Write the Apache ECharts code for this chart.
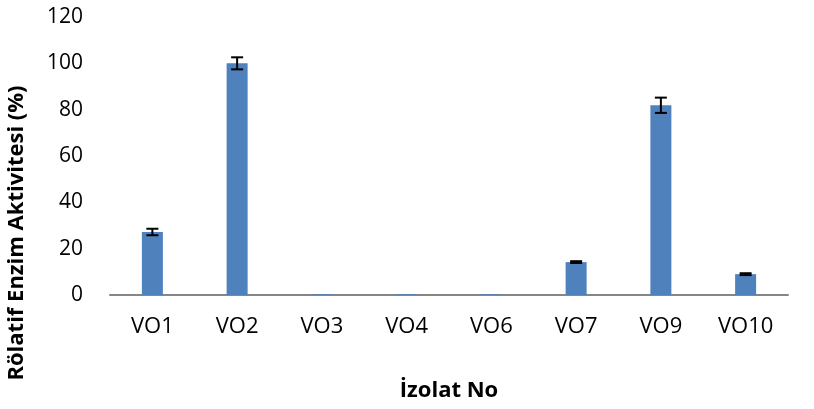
<!DOCTYPE html>
<html>
<head>
<meta charset="utf-8">
<script src="https://cdn.jsdelivr.net/npm/echarts@6/dist/echarts.min.js"></script>
<style>
html, body { margin: 0; padding: 0; background: #fff; }
#chart { width: 814px; height: 409px; }
</style>
</head>
<body>
<div id="chart"></div>
<script>
var categories = ['VO1', 'VO2', 'VO3', 'VO4', 'VO6', 'VO7', 'VO9', 'VO10'];
var activity = [27.2, 100, 0.3, 0.3, 0.3, 14.2, 81.9, 9.0];
var errors = [1.4, 2.6, 0, 0, 0, 0.4, 3.3, 0.4];
var yTicks = [0, 20, 40, 60, 80, 100, 120];

var chart = echarts.init(document.getElementById('chart'));

var errData = categories.map(function (c, i) {
	return [i, activity[i] - errors[i], activity[i] + errors[i]];
});

var option = {
	animation: false,
	grid: {
		left: 110,
		right: 26,
		top: 17,
		bottom: 114,
		outerBoundsMode: 'none'
	},
	graphic: [{
		type: 'text',
		x: 17,
		y: 233,
		rotation: Math.PI / 2,
		style: {
			text: 'Rölatif Enzim Aktivitesi (%)',
			fontFamily: 'Open Sans',
			fontWeight: 'bold',
			fontSize: 22,
			fill: '#000',
			align: 'center',
			verticalAlign: 'middle'
		}
	}],
	xAxis: {
		type: 'category',
		data: categories,
		name: 'İzolat No',
		nameLocation: 'middle',
		nameGap: 85,
		nameTextStyle: {
			fontFamily: 'Open Sans',
			fontWeight: 'bold',
			fontSize: 22,
			color: '#000'
		},
		axisLine: { lineStyle: { color: '#868686', width: 2 } },
		axisTick: { show: false },
		axisLabel: {
			margin: 21,
			fontFamily: 'Open Sans',
			fontSize: 22,
			color: '#000'
		}
	},
	yAxis: {
		type: 'value',
		min: yTicks[0],
		max: yTicks[yTicks.length - 1],
		interval: 20,
		axisLine: { show: false },
		axisTick: { show: false },
		splitLine: { show: false },
		axisLabel: {
			margin: 27,
			fontFamily: 'Open Sans',
			fontSize: 21,
			color: '#000'
		}
	},
	series: [{
		type: 'bar',
		data: activity,
		barWidth: 21,
		itemStyle: { color: '#4F81BD' }
	}, {
		type: 'custom',
		data: errData,
		z: 10,
		renderItem: function (params, api) {
			if (api.value(2) - api.value(1) <= 0) return null;
			var lo = api.coord([api.value(0), api.value(1)]);
			var hi = api.coord([api.value(0), api.value(2)]);
			var hw = 6;
			var st = { stroke: '#000', lineWidth: 2 };
			return {
				type: 'group',
				children: [
					{ type: 'line', shape: { x1: lo[0], y1: lo[1], x2: hi[0], y2: hi[1] }, style: st },
					{ type: 'line', shape: { x1: lo[0] - hw, y1: lo[1], x2: lo[0] + hw, y2: lo[1] }, style: st },
					{ type: 'line', shape: { x1: hi[0] - hw, y1: hi[1], x2: hi[0] + hw, y2: hi[1] }, style: st }
				]
			};
		}
	}]
};

chart.setOption(option);
</script>
</body>
</html>
